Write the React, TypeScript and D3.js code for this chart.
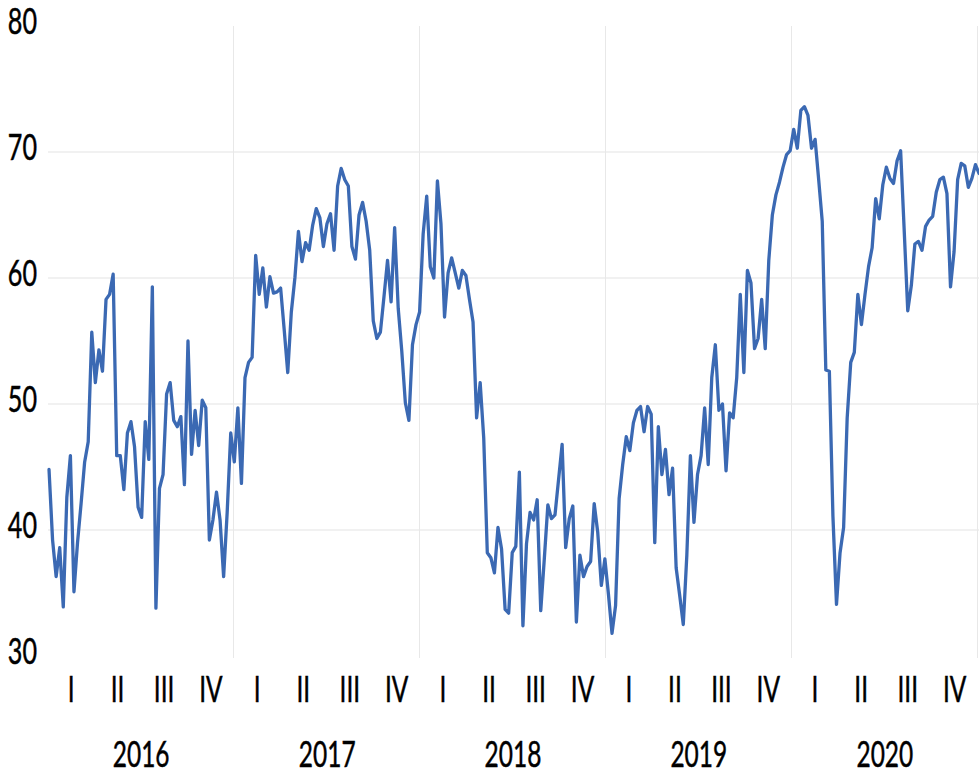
import React from 'react'
import * as d3 from 'd3'

// weekly index values, first week of 2016 to last week of 2020
const weeklyValues = [
  44.8, 39.2, 36.3, 38.6, 33.9, 42.6, 45.9, 35.1, 39.0, 42.1,
  45.4, 47.0, 55.7, 51.7, 54.3, 52.6, 58.3, 58.7, 60.3, 45.9,
  45.9, 43.2, 47.7, 48.6, 46.6, 41.8, 41.0, 48.6, 45.6, 59.3,
  33.8, 43.3, 44.4, 50.8, 51.7, 48.7, 48.2, 49.0, 43.6, 55.0,
  46.0, 49.5, 46.7, 50.3, 49.7, 39.2, 40.8, 43.0, 40.8, 36.3,
  41.4, 47.7, 45.4, 49.7,
  43.7, 52.1, 53.3, 53.7, 61.8, 58.7, 60.8, 57.7, 60.1, 58.8,
  58.9, 59.2, 55.9, 52.5, 57.3, 60.0, 63.7, 61.3, 62.8, 62.2,
  64.2, 65.5, 64.8, 62.5, 64.3, 65.1, 62.2, 67.3, 68.7, 67.8,
  67.3, 62.5, 61.5, 65.0, 66.0, 64.5, 62.2, 56.6, 55.2, 55.7,
  58.5, 61.4, 58.1, 64.0, 57.6, 54.2, 50.1, 48.7, 54.7, 56.3,
  57.3, 63.5, 66.5, 60.9, 60.0, 67.7, 64.3, 56.9, 60.4, 61.6,
  60.4, 59.2, 60.6, 60.2, 58.3, 56.5, 48.9, 51.7, 47.3, 38.2,
  37.8, 36.6, 40.2, 38.5, 33.7, 33.4, 38.2, 38.7, 44.6, 32.4,
  38.9, 41.4, 40.8, 42.4, 33.6, 37.7, 42.0, 40.9, 41.2, 44.0,
  46.8, 38.6, 40.9, 41.9, 32.7, 38.0, 36.3, 37.1, 37.5, 42.1,
  39.8, 35.6, 37.7, 34.9, 31.8, 34.0, 42.5, 45.2, 47.4, 46.3,
  48.5, 49.5, 49.8, 47.8, 49.8, 49.2, 39.0, 48.2, 44.4, 46.4,
  42.8, 44.9, 37.0, 34.8, 32.5, 38.0, 45.9, 40.6, 44.4, 45.9,
  49.7, 45.2, 52.1, 54.7, 49.5, 50.0, 44.7, 49.3, 48.9, 52.1,
  58.7, 52.5, 60.6, 59.6, 54.4, 55.2, 58.3, 54.4, 61.4, 65.0,
  66.6, 67.6, 68.8, 69.8, 70.1, 71.8, 70.3, 73.3, 73.6, 72.9,
  70.3, 71.0, 67.8, 64.5, 52.7, 52.6, 41.1, 34.1, 38.2, 40.2,
  48.9, 53.3, 54.1, 58.7, 56.3, 58.7, 60.9, 62.4, 66.3, 64.7,
  67.4, 68.8, 67.9, 67.5, 69.3, 70.1, 63.8, 57.4, 59.4, 62.7,
  62.9, 62.2, 64.1, 64.6, 64.9, 66.8, 67.8, 68.0, 66.7, 59.3,
  62.1, 67.8, 69.1, 68.9, 67.2, 67.9, 69.0, 68.3,
]

const years = [2016, 2017, 2018, 2019, 2020]
const quarters = ['I', 'II', 'III', 'IV']
const yTicks = [30, 40, 50, 60, 70, 80]
const gridValues = [40, 50, 60, 70]

const firstWeek = new Date(2016, 0, 3)

const W = 979
const H = 775
const FONT = 'Lato, "Liberation Sans", sans-serif'
const SQUEEZE = 0.68

const App = () => {
  const x = d3
    .scaleTime()
    .domain([new Date(2016, 0, 1), new Date(2021, 0, 1)])
    .range([48, 978])

  const y = d3.scaleLinear().domain([30, 80]).range([656, 26])

  const points = weeklyValues.map((v, i) => ({
    date: d3.timeDay.offset(firstWeek, i * 7),
    value: v,
  }))

  const line = d3
    .line<{ date: Date; value: number }>()
    .x(d => x(d.date))
    .y(d => y(d.value))

  const quarterCenters = years.flatMap(yr =>
    quarters.map((q, qi) => {
      const a = x(new Date(yr, qi * 3, 1))
      const b = x(new Date(yr, qi * 3 + 3, 1))
      return { label: q, cx: (a + b) / 2 }
    }),
  )

  const textProps = { fill: '#000', stroke: '#000', strokeWidth: 0.5 }

  return (
    <svg
      width={W}
      height={H}
      style={{ position: 'absolute', left: 0, top: 0, background: '#fff' }}
      fontFamily={FONT}
    >
      {/* horizontal gridlines */}
      {gridValues.map(v => (
        <line key={v} x1={48} x2={W} y1={y(v)} y2={y(v)} stroke="#e3e3e3" strokeWidth={1} />
      ))}

      {/* year separators */}
      {years.map(yr => {
        const xx = Math.round(x(new Date(yr + 1, 0, 1))) - 0.5
        return <line key={yr} x1={xx} x2={xx} y1={26} y2={658} stroke="#e8e8e8" strokeWidth={1} />
      })}

      {/* y labels, sitting a little above their gridline */}
      {yTicks.map(v => (
        <text
          key={v}
          transform={`translate(37,${y(v) - 6}) scale(${SQUEEZE},1)`}
          textAnchor="end"
          dominantBaseline="central"
          fontSize={37}
          {...textProps}
        >
          {v}
        </text>
      ))}

      {/* quarter labels */}
      {quarterCenters.map((q, i) => (
        <text
          key={i}
          transform={`translate(${q.cx},702) scale(${SQUEEZE},1)`}
          textAnchor="middle"
          fontSize={36}
          {...textProps}
        >
          {q.label}
        </text>
      ))}

      {/* year labels */}
      {years.map(yr => (
        <text
          key={yr}
          transform={`translate(${(x(new Date(yr, 0, 1)) + x(new Date(yr + 1, 0, 1))) / 2},767) scale(${SQUEEZE},1)`}
          textAnchor="middle"
          fontSize={36}
          {...textProps}
        >
          {yr}
        </text>
      ))}

      <path
        d={line(points) ?? ''}
        fill="none"
        stroke="#3b69b3"
        strokeWidth={3.3}
        strokeLinejoin="round"
        strokeLinecap="round"
      />
    </svg>
  )
}

export default App
